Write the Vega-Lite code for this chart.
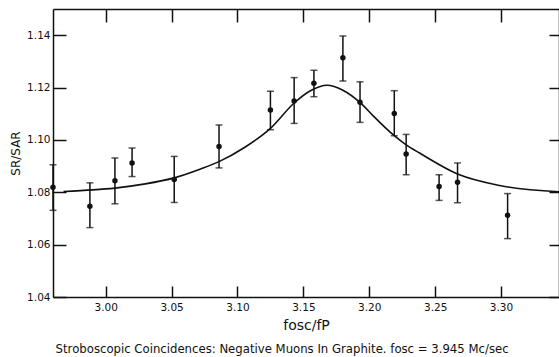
{
  "$schema": "https://vega.github.io/schema/vega-lite/v6.json",
  "width": 506,
  "height": 288,
  "autosize": {"type": "none"},
  "padding": {"left": 53, "top": 9, "right": 0, "bottom": 60},
  "background": "white",
  "config": {
    "font": "DejaVu Sans",
    "view": {"stroke": null},
    "axis": {
      "grid": false,
      "domainColor": "#111",
      "domainWidth": 1.5,
      "tickColor": "#111",
      "tickWidth": 1.5,
      "labelColor": "#111",
      "titleColor": "#111",
      "labelFont": "DejaVu Sans",
      "titleFont": "DejaVu Sans",
      "labelFontSize": 10.5,
      "titleFontWeight": "normal"
    }
  },
  "title": {
    "text": "Stroboscopic Coincidences: Negative Muons In Graphite. fosc = 3.945 Mc/sec",
    "orient": "bottom",
    "anchor": "start",
    "dx": 46,
    "offset": 11,
    "fontSize": 11.7,
    "fontWeight": "normal",
    "font": "DejaVu Sans",
    "color": "#111"
  },
  "datasets": {
    "points": [
      {"x": 2.960, "y": 1.0819, "lo": 1.0731, "hi": 1.0905},
      {"x": 2.988, "y": 1.0747, "lo": 1.0665, "hi": 1.0836},
      {"x": 3.007, "y": 1.0844, "lo": 1.0756, "hi": 1.0931},
      {"x": 3.020, "y": 1.0912, "lo": 1.0860, "hi": 1.0969},
      {"x": 3.052, "y": 1.0849, "lo": 1.0761, "hi": 1.0937},
      {"x": 3.086, "y": 1.0975, "lo": 1.0893, "hi": 1.1057},
      {"x": 3.125, "y": 1.1114, "lo": 1.1039, "hi": 1.1186},
      {"x": 3.143, "y": 1.1149, "lo": 1.1063, "hi": 1.1238},
      {"x": 3.158, "y": 1.1216, "lo": 1.1165, "hi": 1.1266},
      {"x": 3.180, "y": 1.1314, "lo": 1.1225, "hi": 1.1397},
      {"x": 3.193, "y": 1.1144, "lo": 1.1067, "hi": 1.1222},
      {"x": 3.219, "y": 1.1101, "lo": 1.1016, "hi": 1.1188},
      {"x": 3.228, "y": 1.0946, "lo": 1.0867, "hi": 1.1021},
      {"x": 3.253, "y": 1.0822, "lo": 1.0769, "hi": 1.0867},
      {"x": 3.267, "y": 1.0838, "lo": 1.0760, "hi": 1.0912},
      {"x": 3.305, "y": 1.0712, "lo": 1.0623, "hi": 1.0795}
    ],
    "curve": [
      {"x": 2.968, "y": 1.0803},
      {"x": 2.990, "y": 1.0809},
      {"x": 3.007, "y": 1.0816},
      {"x": 3.030, "y": 1.0832},
      {"x": 3.052, "y": 1.0855},
      {"x": 3.072, "y": 1.0889},
      {"x": 3.086, "y": 1.0917},
      {"x": 3.105, "y": 1.0970},
      {"x": 3.125, "y": 1.1044},
      {"x": 3.143, "y": 1.1141},
      {"x": 3.155, "y": 1.1187},
      {"x": 3.168, "y": 1.1209},
      {"x": 3.180, "y": 1.1190},
      {"x": 3.193, "y": 1.1143},
      {"x": 3.203, "y": 1.1092},
      {"x": 3.219, "y": 1.1016},
      {"x": 3.228, "y": 1.0981},
      {"x": 3.2385, "y": 1.0949},
      {"x": 3.267, "y": 1.0870},
      {"x": 3.299, "y": 1.0826},
      {"x": 3.344, "y": 1.0802}
    ]
  },
  "layer": [
    {
      "data": {"name": "curve"},
      "mark": {"type": "line", "interpolate": "monotone", "color": "#111", "strokeWidth": 1.6},
      "encoding": {
        "x": {
          "field": "x", "type": "quantitative",
          "scale": {"domain": [2.96, 3.344], "zero": false, "nice": false},
          "axis": {
            "orient": "bottom",
            "values": [3.0, 3.05, 3.1, 3.15, 3.2, 3.25, 3.3],
            "format": ".2f",
            "tickSize": -11,
            "labelPadding": 16,
            "title": "fosc/fP",
            "titleFontSize": 14,
            "titlePadding": 6
          }
        },
        "y": {
          "field": "y", "type": "quantitative",
          "scale": {"domain": [1.04, 1.15], "zero": false, "nice": false},
          "axis": {
            "orient": "left",
            "values": [1.04, 1.06, 1.08, 1.1, 1.12, 1.14],
            "format": ".2f",
            "tickSize": -13,
            "labelPadding": 16,
            "title": "SR/SAR",
            "titleFontSize": 12,
            "titlePadding": 4
          }
        }
      }
    },
    {
      "data": {"name": "points"},
      "mark": {"type": "rule", "color": "#111", "strokeWidth": 1.5},
      "encoding": {
        "x": {
          "field": "x", "type": "quantitative",
          "axis": {
            "orient": "top",
            "values": [3.0, 3.05, 3.1, 3.15, 3.2, 3.25, 3.3],
            "labels": false,
            "tickSize": -13,
            "title": null
          }
        },
        "y": {
          "field": "lo", "type": "quantitative",
          "axis": {
            "orient": "right",
            "values": [1.04, 1.06, 1.08, 1.1, 1.12, 1.14],
            "labels": false,
            "tickSize": -10,
            "title": null
          }
        },
        "y2": {"field": "hi"}
      }
    },
    {
      "data": {"name": "points"},
      "mark": {"type": "tick", "orient": "horizontal", "size": 7, "thickness": 1.5, "color": "#111"},
      "encoding": {
        "x": {"field": "x", "type": "quantitative", "axis": null},
        "y": {"field": "lo", "type": "quantitative", "axis": null}
      }
    },
    {
      "data": {"name": "points"},
      "mark": {"type": "tick", "orient": "horizontal", "size": 7, "thickness": 1.5, "color": "#111"},
      "encoding": {
        "x": {"field": "x", "type": "quantitative", "axis": null},
        "y": {"field": "hi", "type": "quantitative", "axis": null}
      }
    },
    {
      "data": {"name": "points"},
      "mark": {"type": "point", "filled": true, "size": 30, "color": "#111", "opacity": 1},
      "encoding": {
        "x": {"field": "x", "type": "quantitative", "axis": null},
        "y": {"field": "y", "type": "quantitative", "axis": null}
      }
    }
  ],
  "resolve": {"axis": {"x": "independent", "y": "independent"}}
}
